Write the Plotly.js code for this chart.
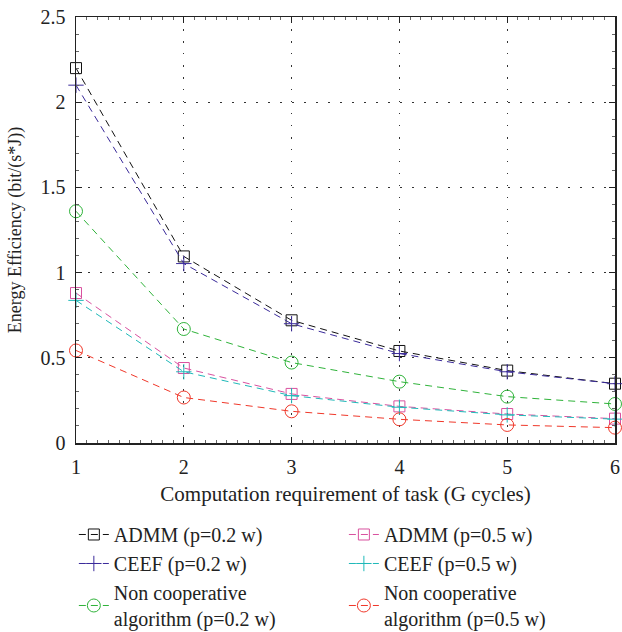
<!DOCTYPE html>
<html>
<head>
<meta charset="utf-8">
<script src="https://cdn.plot.ly/plotly-3.0.1.min.js"></script>
<style>html,body{margin:0;padding:0;background:#fff;}#chart{width:622px;height:632px;}</style>
</head>
<body>
<div id="chart"></div>
<script>
const xValues = [1, 2, 3, 4, 5, 6];
const admm02 = [2.20, 1.095, 0.72, 0.54, 0.425, 0.348];
const ceef02 = [2.10, 1.053, 0.70, 0.525, 0.418, 0.348];
const noncoop02 = [1.36, 0.669, 0.472, 0.36, 0.272, 0.229];
const admm05 = [0.88, 0.44, 0.288, 0.215, 0.17, 0.143];
const ceef05 = [0.837, 0.418, 0.278, 0.21, 0.165, 0.14];
const noncoop05 = [0.543, 0.267, 0.186, 0.139, 0.106, 0.09];
const names = ["ADMM (p=0.2 w)", "CEEF (p=0.2 w)", "Non cooperative<br>algorithm (p=0.2 w)",
               "ADMM (p=0.5 w)", "CEEF (p=0.5 w)", "Non cooperative<br>algorithm (p=0.5 w)"];
const colors = ["#111111", "#3a2a9a", "#2fb33a", "#d9519f", "#1fb9b9", "#f0382a"];
const symbols = ["square-open", "cross-thin-open", "circle-open", "square-open", "cross-thin-open", "circle-open"];
const series = [admm02, ceef02, noncoop02, admm05, ceef05, noncoop05];

const traces = series.map((ys, i) => ({
  x: xValues, y: ys, name: names[i], type: "scatter", mode: "lines+markers",
  line: {color: colors[i], width: 1, dash: "7px,5px"},
  marker: {symbol: symbols[i], size: symbols[i] === "circle-open" ? 13 : 11, color: colors[i], line: {color: colors[i], width: 1}},
  legend: i < 3 ? "legend" : "legend2",
  cliponaxis: false
}));

const font = {family: "Liberation Serif, Times New Roman, serif", color: "#222", size: 20};
const axisCommon = {
  showline: true, linecolor: "#222", linewidth: 1.5, mirror: "ticks",
  ticks: "inside", ticklen: 6, tickcolor: "#222", tickwidth: 1,
  showgrid: true, gridcolor: "#333", griddash: "1.5px,10.5px", gridwidth: 1,
  zeroline: false, tickfont: {size: 20}, ticklabelstandoff: 5
};
const layout = {
  width: 622, height: 632,
  margin: {l: 76, r: 7, t: 17, b: 189, autoexpand: false},
  paper_bgcolor: "#fff", plot_bgcolor: "#fff",
  font: font,
  showlegend: true,
  xaxis: Object.assign({}, axisCommon, {
    range: [1, 6], tickvals: [1, 2, 3, 4, 5, 6],
    minor: {dtick: 0.1, ticks: "inside", ticklen: 3, tickcolor: "#666", showgrid: false},
    title: {text: "Computation requirement of task (G cycles)", font: {size: 21}, standoff: 10}
  }),
  yaxis: Object.assign({}, axisCommon, {
    range: [0, 2.5], tickvals: [0, 0.5, 1, 1.5, 2, 2.5], ticktext: ["0", "0.5", "1", "1.5", "2", "2.5"],
    minor: {dtick: 0.1, ticks: "inside", ticklen: 3, tickcolor: "#666", showgrid: false},
    title: {text: "Energy Efficiency (bit/(s*J))", font: {size: 18}, standoff: 14}
  }),
  legend: {x: -0.004, y: -0.169, xanchor: "left", yanchor: "top", orientation: "v",
    bgcolor: "rgba(0,0,0,0)", font: {size: 20}, tracegroupgap: 0, itemwidth: 30},
  legend2: {x: 0.497, y: -0.169, xanchor: "left", yanchor: "top", orientation: "v",
    bgcolor: "rgba(0,0,0,0)", font: {size: 20}, tracegroupgap: 0, itemwidth: 30}
};
Plotly.newPlot("chart", traces, layout, {displayModeBar: false, staticPlot: true});
</script>
</body>
</html>
